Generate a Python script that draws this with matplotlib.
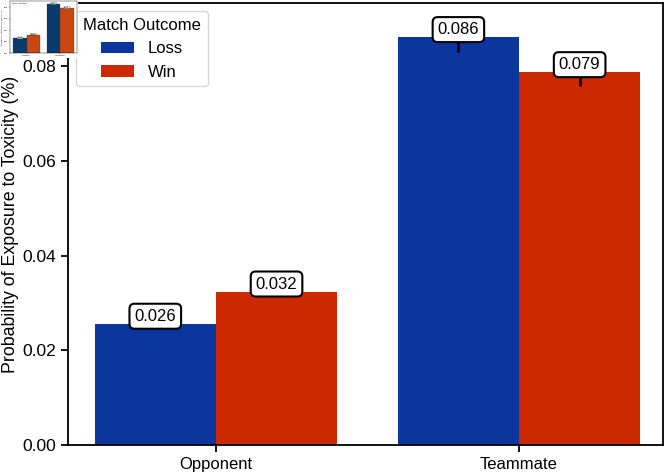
import matplotlib
matplotlib.use("Agg")
import matplotlib.pyplot as plt
import numpy as np

plt.rcParams["font.family"] = ["Liberation Sans", "DejaVu Sans"]

# data
categories = ["Opponent", "Teammate"]
outcomes = ["Loss", "Win"]
loss_vals = [0.0256, 0.0861]
win_vals = [0.0324, 0.0787]
loss_err = [0.0008, 0.0031]
win_err = [0.0008, 0.0029]
colors = {"Loss": "#0A369D", "Win": "#CC2900"}
thumb_colors = {"Loss": "#0B3A6E", "Win": "#C8460F"}

fig = plt.figure(figsize=(6.66, 4.75), dpi=100)
ax = fig.add_axes([68 / 666, 1 - 445 / 475, (663 - 68) / 666, (445 - 3) / 475])

x = np.arange(len(categories))
w = 0.4
vals = {"Loss": loss_vals, "Win": win_vals}
errs = {"Loss": loss_err, "Win": win_err}
offsets = {"Loss": -w / 2, "Win": w / 2}

for o in outcomes:
    pos = x + offsets[o]
    ax.bar(pos, vals[o], width=w, color=colors[o], label=o, zorder=2)
    ax.errorbar(pos, vals[o], yerr=errs[o], fmt="none", ecolor="black",
                elinewidth=2, capsize=0, zorder=3)
    for px, v in zip(pos, vals[o]):
        ax.text(px, v, f"{v:.3f}", ha="center", va="bottom", fontsize=12,
                zorder=4,
                bbox=dict(boxstyle="round,pad=0.3", fc="white", ec="black", lw=1.5))

ax.set_xlim(-0.488, 1.475)
ax.set_ylim(0, 0.0933)
ax.set_xticks(x)
ax.set_xticklabels(categories, fontsize=12)
ax.set_yticks([0, 0.02, 0.04, 0.06, 0.08])
ax.set_yticklabels(["0.00", "0.02", "0.04", "0.06", "0.08"], fontsize=12.5)
ax.set_ylabel("Probability of Exposure to Toxicity (%)", fontsize=12.8)
ax.yaxis.set_label_coords((19.5 - 68) / 595, 0.5)
ax.tick_params(width=1.3, length=5)
for s in ax.spines.values():
    s.set_linewidth(1.3)

leg = ax.legend(title="Match Outcome", loc="upper left", fontsize=12,
                title_fontsize=12)

# small thumbnail copy in the corner
bg = plt.Rectangle((0, 1 - 58 / 475), 78 / 666, 58 / 475, transform=fig.transFigure,
                   fc="white", ec="none", zorder=10)
fig.patches.append(bg)
tax = fig.add_axes([10 / 666, 1 - 53 / 475, 67 / 666, 52 / 475], zorder=11)
for o in outcomes:
    pos = x + offsets[o]
    tax.bar(pos, vals[o], width=w, color=thumb_colors[o], edgecolor="#333333",
            linewidth=0.2)
    for px, v in zip(pos, vals[o]):
        tax.text(px, v, f"{v:.3f}", ha="center", va="bottom", fontsize=1.5,
                 bbox=dict(boxstyle="round,pad=0.2", fc="white", ec="black", lw=0.2))
tax.set_xlim(-0.5, 1.5)
tax.set_ylim(0, 0.0913)
tax.set_xticks(x)
tax.set_xticklabels(categories, fontsize=1.5)
tax.set_yticks([0, 0.02, 0.04, 0.06, 0.08])
tax.tick_params(labelsize=1.5, length=1, width=0.3, pad=0.5)
tax.set_ylabel("Probability of Exposure to Toxicity (%)", fontsize=1.5, labelpad=1)
for s in tax.spines.values():
    s.set_linewidth(0.3)
tax.legend(title="Match Outcome", loc="upper left", fontsize=1.5, title_fontsize=1.5,
           frameon=True).get_frame().set_linewidth(0.2)

fig.savefig("out.png", dpi=100)
